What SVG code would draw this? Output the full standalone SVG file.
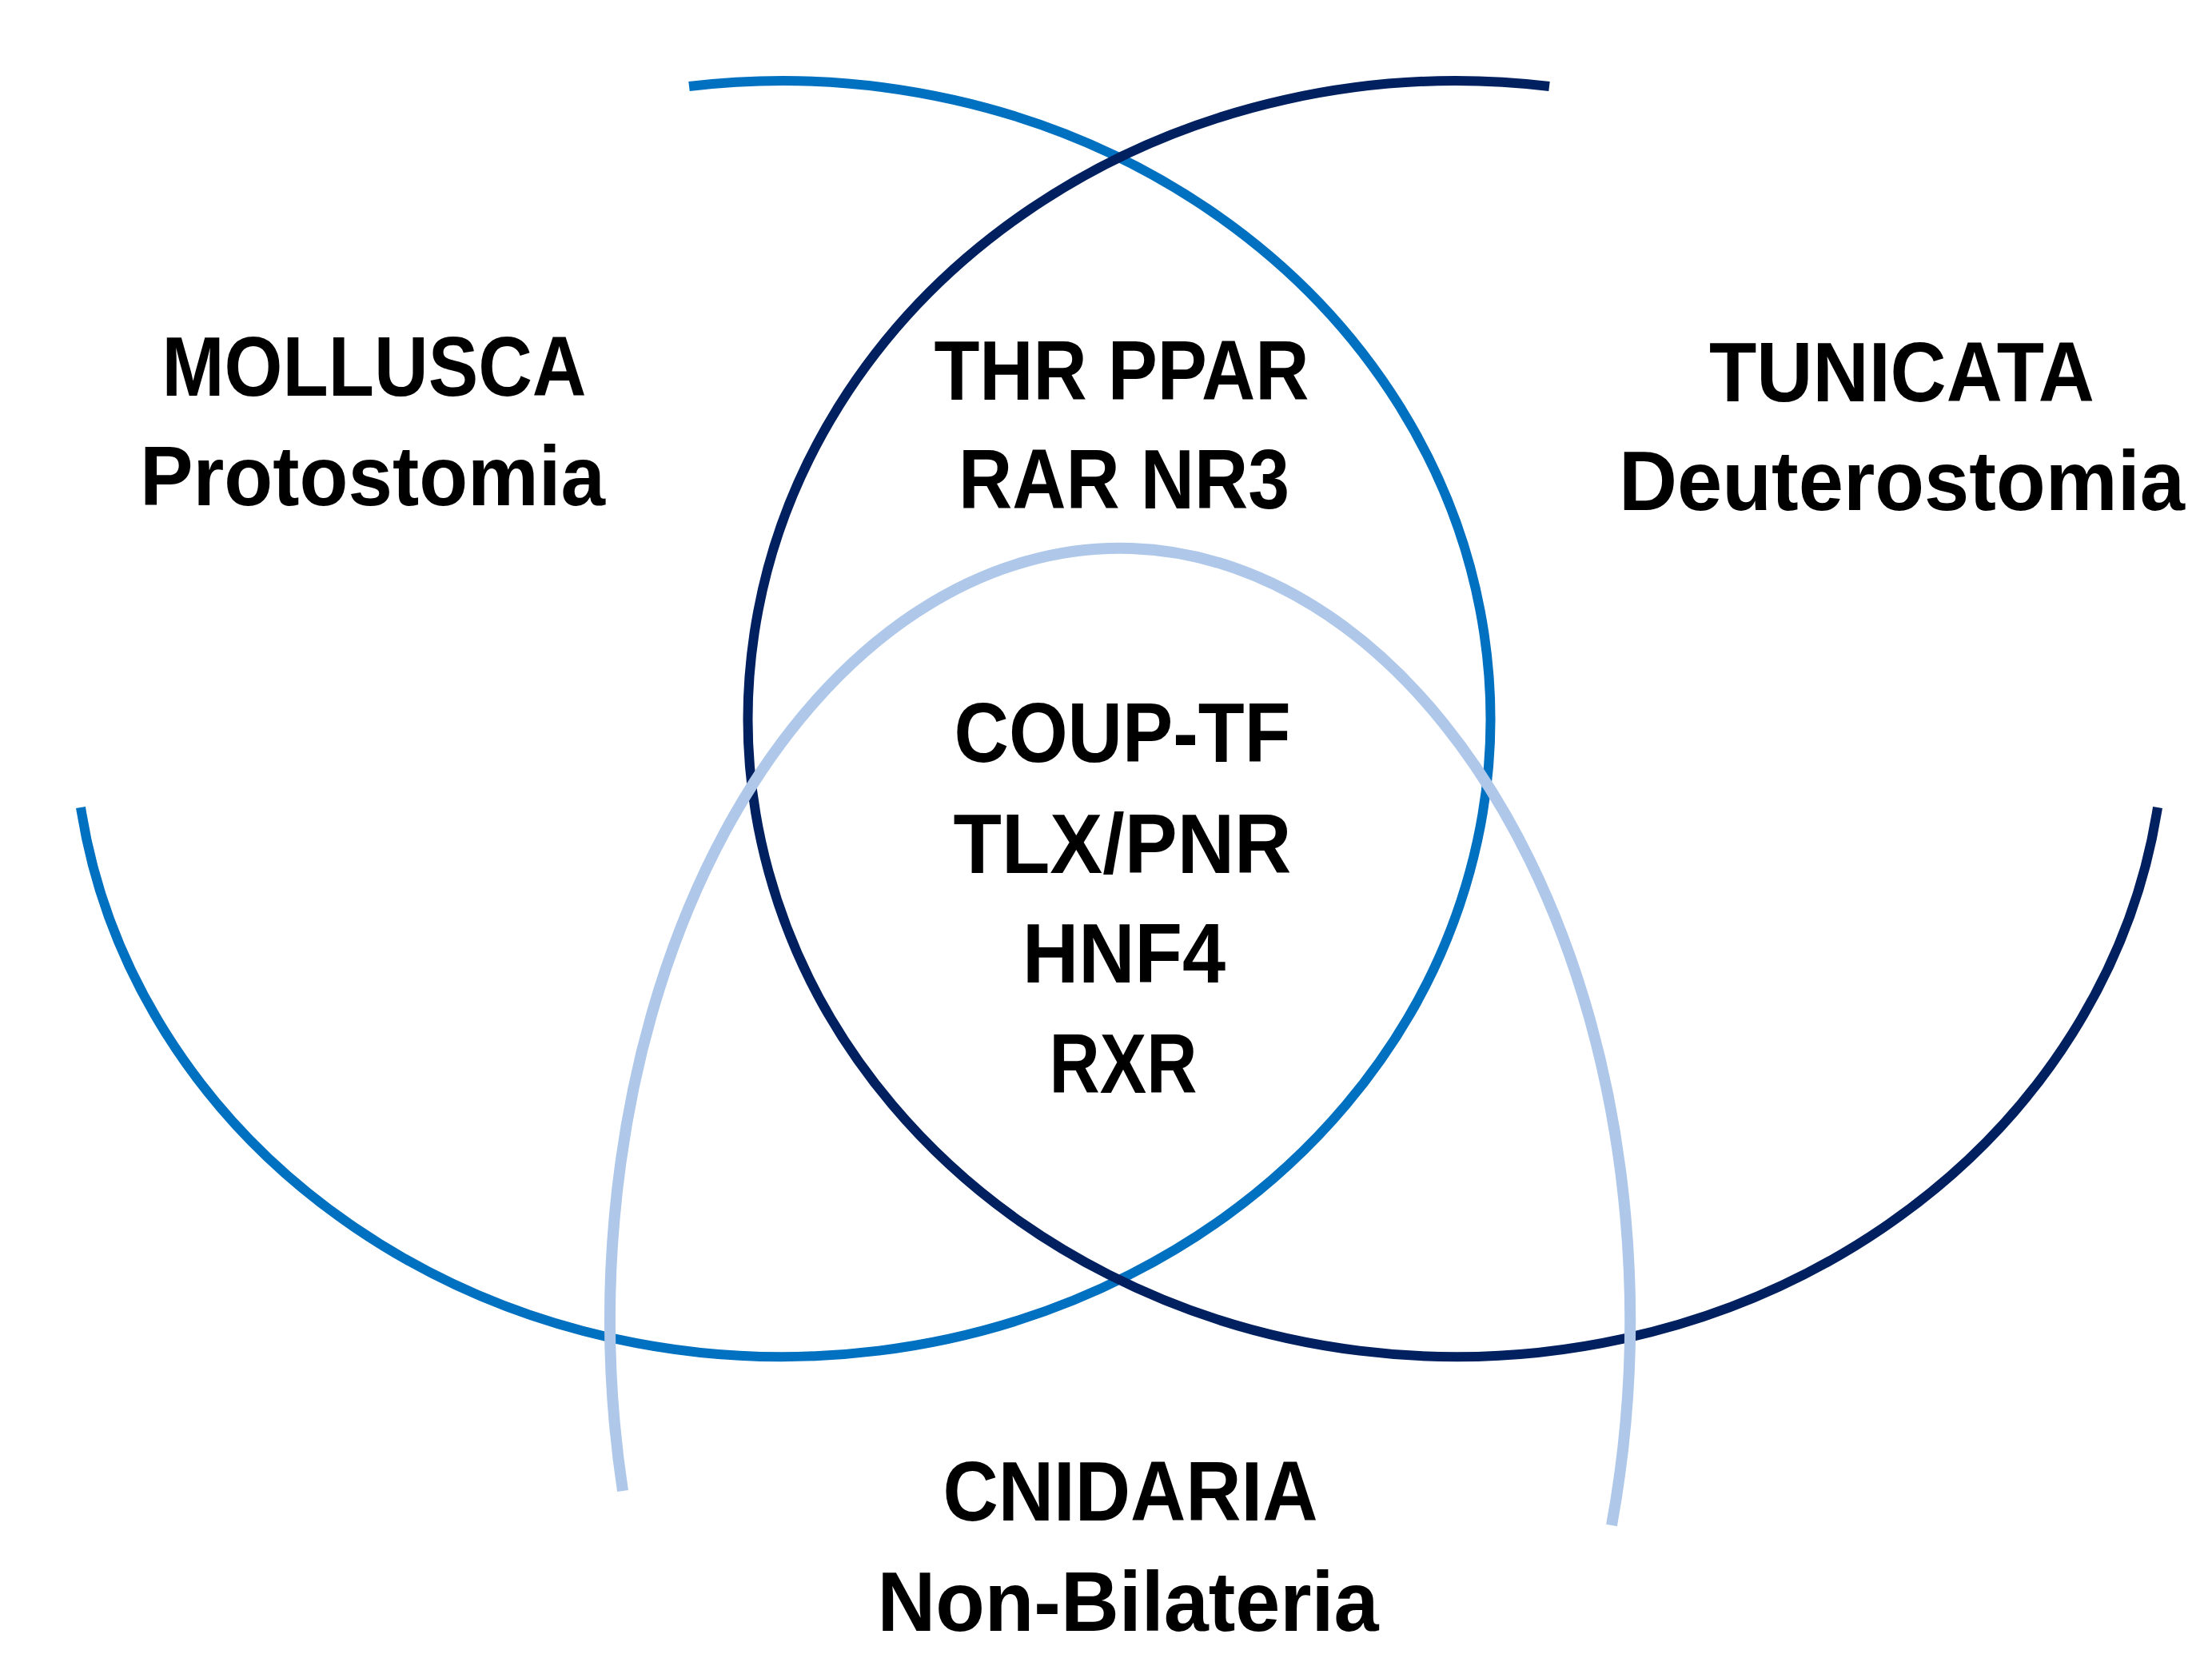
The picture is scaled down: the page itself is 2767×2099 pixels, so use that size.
<svg xmlns="http://www.w3.org/2000/svg" width="2767" height="2099" viewBox="0 0 2767 2099">
  <style>
    .arc { fill: none; stroke-linecap: butt; }
    .mol { stroke: #0070C0; stroke-width: 12; }
    .tun { stroke: #002060; stroke-width: 12; }
    .cni { stroke: #AFC8EA; stroke-width: 14; }
    .lbl { font-family: "Liberation Sans", Arial, sans-serif; font-weight: bold; font-size: 105px; fill: #000000; text-anchor: middle; }
  </style>
  <rect x="0" y="0" width="2767" height="2099" fill="#FFFFFF"/>
  <g id="mollusca">
    <path class="arc mol" d="M 862 108 A 886 798 0 1 1 101 1010"/>
    <text class="lbl" x="468" y="495" textLength="531" lengthAdjust="spacingAndGlyphs">MOLLUSCA</text>
    <text class="lbl" x="466" y="632" textLength="582" lengthAdjust="spacingAndGlyphs">Protostomia</text>
  </g>
  <g id="tunicata">
    <path class="arc tun" d="M 2699 1010 A 886 798 0 1 1 1938 108"/>
    <text class="lbl" x="2379" y="502" textLength="482" lengthAdjust="spacingAndGlyphs">TUNICATA</text>
    <text class="lbl" x="2379" y="638" textLength="708" lengthAdjust="spacingAndGlyphs">Deuterostomia</text>
  </g>
  <g id="cnidaria">
    <path class="arc cni" d="M 779 1865 A 638 965 0 1 1 2016 1908"/>
    <text class="lbl" x="1414" y="1902" textLength="469" lengthAdjust="spacingAndGlyphs">CNIDARIA</text>
    <text class="lbl" x="1411" y="2040" textLength="627" lengthAdjust="spacingAndGlyphs">Non-Bilateria</text>
  </g>
  <g id="bilateria-shared">
    <text class="lbl" x="1403" y="500" textLength="469" lengthAdjust="spacingAndGlyphs">THR PPAR</text>
    <text class="lbl" x="1406" y="636" textLength="414" lengthAdjust="spacingAndGlyphs">RAR NR3</text>
  </g>
  <g id="all-shared">
    <text class="lbl" x="1404" y="953" textLength="421" lengthAdjust="spacingAndGlyphs">COUP-TF</text>
    <text class="lbl" x="1404" y="1092" textLength="423" lengthAdjust="spacingAndGlyphs">TLX/PNR</text>
    <text class="lbl" x="1406" y="1229" textLength="254" lengthAdjust="spacingAndGlyphs">HNF4</text>
    <text class="lbl" x="1405" y="1367" textLength="185" lengthAdjust="spacingAndGlyphs">RXR</text>
  </g>
</svg>
